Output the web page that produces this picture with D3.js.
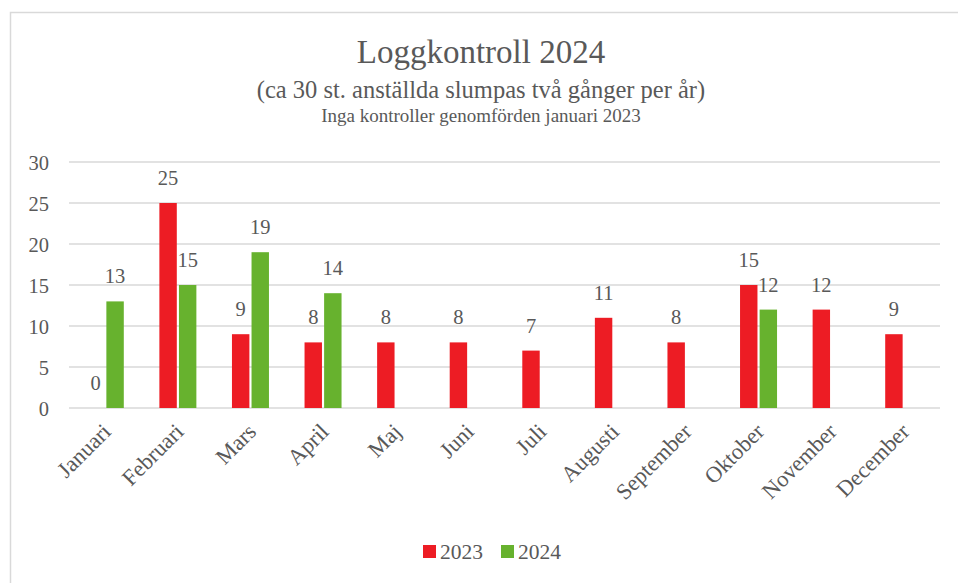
<!DOCTYPE html>
<html>
<head>
<meta charset="utf-8">
<script src="https://cdn.jsdelivr.net/npm/d3@7"></script>
<style>
  html, body { margin: 0; padding: 0; background: #fff; }
  svg { display: block; }
</style>
</head>
<body>
<svg id="chart" width="958" height="583"></svg>
<script>
// Monthly log checks, 2023 vs 2024
const months = ["Januari", "Februari", "Mars", "April", "Maj", "Juni", "Juli",
                "Augusti", "September", "Oktober", "November", "December"];
const series = ["2023", "2024"];
const values2023 = [0, 25, 9, 8, 8, 8, 7, 11, 8, 15, 12, 9];
const values2024 = [13, 15, 19, 14, null, null, null, null, null, 12, null, null];
const yTicks = [0, 5, 10, 15, 20, 25, 30];
const colors = { "2023": "#ED1C24", "2024": "#67B22E" };

const FONT = "'Liberation Serif', 'Times New Roman', 'DejaVu Serif', serif";
const INK = "#595959";

const svg = d3.select("#chart").attr("font-family", FONT);
const W = 958, H = 583;
const plot = { left: 69, right: 940, top: 162, bottom: 408 };

// Outer chart frame
svg.append("rect")
  .attr("x", 10.5).attr("y", 12.5)
  .attr("width", W).attr("height", H)
  .attr("fill", "#fff").attr("stroke", "#d9d9d9").attr("stroke-width", 1.5);

// Titles
function title(txt, yPos, size) {
  svg.append("text").attr("x", 481).attr("y", yPos).attr("text-anchor", "middle")
    .attr("font-family", FONT).attr("fill", INK).attr("font-size", size).text(txt);
}
title("Loggkontroll 2024", 63, 33);
title("(ca 30 st. anställda slumpas två gånger per år)", 98, 24.5);
title("Inga kontroller genomförden januari 2023", 122, 19);

// Scales
const x = d3.scaleBand().domain(months).range([plot.left, plot.right]);
const bw = x.bandwidth();
const groupW = 37;
const x1 = d3.scaleBand().domain(series)
  .range([(bw - groupW) / 2, (bw + groupW) / 2]).paddingInner(0.11);
const y = d3.scaleLinear().domain([0, 30]).range([plot.bottom, plot.top]);

// Gridlines
svg.append("g").selectAll("line").data(yTicks).join("line")
  .attr("x1", plot.left).attr("x2", plot.right)
  .attr("y1", d => y(d)).attr("y2", d => y(d))
  .attr("stroke", "#d9d9d9").attr("stroke-width", 1.5);

// Y axis labels
const yAxis = d3.axisLeft(y).tickValues(yTicks).tickSize(0).tickPadding(0);
const yg = svg.append("g").attr("transform", `translate(${plot.left - 20},0)`).call(yAxis)
  .attr("font-family", FONT).attr("font-size", 20.5);
yg.select(".domain").remove();
yg.selectAll("text").attr("fill", INK).attr("dy", "0.35em");

// Bars
const rows = months.map((m, i) => ({ month: m, vals: [
  { key: "2023", v: values2023[i] },
  { key: "2024", v: values2024[i] }
].filter(d => d.v !== null) }));

const groups = svg.append("g").selectAll("g").data(rows).join("g")
  .attr("transform", d => `translate(${x(d.month)},0)`);

groups.selectAll("rect").data(d => d.vals).join("rect")
  .attr("x", d => x1(d.key)).attr("width", x1.bandwidth())
  .attr("y", d => y(d.v)).attr("height", d => y(0) - y(d.v))
  .attr("fill", d => colors[d.key]);

groups.selectAll("text.val").data(d => d.vals).join("text")
  .attr("class", "val")
  .attr("x", d => x1(d.key) + x1.bandwidth() / 2)
  .attr("y", d => y(d.v) - 18)
  .attr("text-anchor", "middle")
  .attr("font-family", FONT).attr("font-size", 20.5).attr("fill", INK)
  .text(d => d.v);

// X axis labels, rotated
const xAxis = d3.axisBottom(x).tickSize(0).tickPadding(0);
const xg = svg.append("g").attr("transform", `translate(0,${plot.bottom})`).call(xAxis)
  .attr("font-family", FONT).attr("font-size", 22.5);
xg.select(".domain").remove();
xg.selectAll("text")
  .attr("fill", INK)
  .attr("text-anchor", "end")
  .attr("dy", null).attr("y", 0)
  .attr("transform", "translate(7,25) rotate(-45)");

// Legend
const legendItems = [{ key: "2023", x: 423 }, { key: "2024", x: 501 }];
const legend = svg.append("g");
legendItems.forEach(it => {
  legend.append("rect").attr("x", it.x).attr("y", 545).attr("width", 13).attr("height", 13)
    .attr("fill", colors[it.key]);
  legend.append("text").attr("x", it.x + 17).attr("y", 558.5)
    .attr("font-family", FONT).attr("font-size", 21.5).attr("fill", INK).text(it.key);
});
</script>
</body>
</html>
